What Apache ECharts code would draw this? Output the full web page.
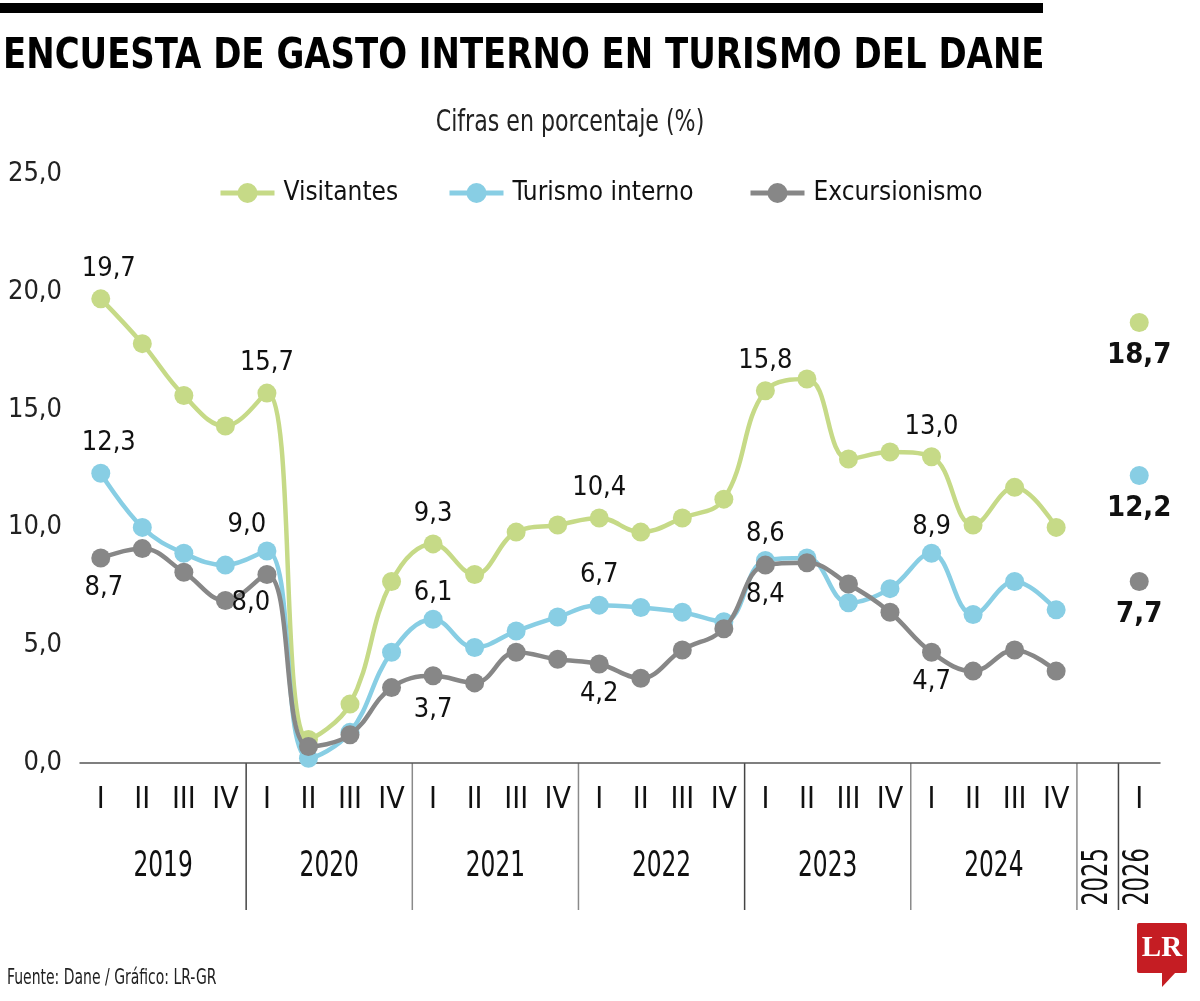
<!DOCTYPE html>
<html><head><meta charset="utf-8">
<script src="https://cdn.jsdelivr.net/npm/echarts@6/dist/echarts.min.js"></script>
<style>html,body{margin:0;padding:0;background:#fff}#c{width:1200px;height:1001px}</style>
</head><body><div id="c"></div>
<script>
// ---- data ----
const quarters = ['I','II','III','IV','I','II','III','IV','I','II','III','IV','I','II','III','IV','I','II','III','IV','I','II','III','IV','','I'];
const years = ['2019','2020','2021','2022','2023','2024','2025','2026'];
const yearSlots = [4,4,4,4,4,4,1,1];
const visitantes = [19.7,17.8,15.6,14.3,15.7,1.0,2.5,7.7,9.3,8.0,9.8,10.1,10.4,9.8,10.4,11.2,15.8,16.3,12.9,13.2,13.0,10.1,11.7,10.0,null,18.7];
const turismo = [12.3,10.0,8.9,8.4,9.0,0.2,1.3,4.7,6.1,4.9,5.6,6.2,6.7,6.6,6.4,6.0,8.6,8.7,6.8,7.4,8.9,6.3,7.7,6.5,null,12.2];
const excursionismo = [8.7,9.1,8.1,6.9,8.0,0.7,1.2,3.2,3.7,3.4,4.7,4.4,4.2,3.6,4.8,5.7,8.4,8.5,7.6,6.4,4.7,3.9,4.8,3.9,null,7.7];
const seriesNames = ['Visitantes','Turismo interno','Excursionismo'];
const yTicks = [0,5,10,15,20,25];

// ---- styling / label placement (kept separate from data) ----
const colors = ['#c6da87','#88cee4','#878787'];
const FONT = "'DejaVu Sans Condensed','DejaVu Sans',sans-serif";
const labelCfg = [
  {0:{pos:'top',off:[8,0]},4:{pos:'top'},8:{pos:'top'},12:{pos:'top'},16:{pos:'top'},20:{pos:'top'},25:{pos:'bottom',bold:true}},
  {0:{pos:'top',off:[8,0]},4:{pos:'top',off:[-20,4]},8:{pos:'top',off:[0,4]},12:{pos:'top'},16:{pos:'top',off:[0,4]},20:{pos:'top',off:[0,4]},25:{pos:'bottom',bold:true}},
  {0:{pos:'bottom',off:[3,0]},4:{pos:'bottom',off:[-16,-2]},8:{pos:'bottom',off:[0,4]},12:{pos:'bottom'},16:{pos:'bottom'},20:{pos:'bottom'},25:{pos:'bottom',bold:true}}
];
const legendLeft = [218, 447, 748];
const fmt = v => v.toFixed(1).replace('.', ',');

function buildData(vals, cfg) {
  return vals.map((v, i) => {
    const c = cfg[i];
    if (!c || v == null) return v;
    return {value: v, label: {
      show: true, position: c.pos, offset: c.off || [0,0], distance: c.bold ? 9 : 7,
      fontFamily: FONT, fontSize: c.bold ? 29 : 27, fontWeight: c.bold ? 'bold' : 'normal',
      color: '#111', formatter: p => fmt(p.value)
    }};
  });
}

const chart = echarts.init(document.getElementById('c'), null, {renderer: 'canvas'});
const allVals = [visitantes, turismo, excursionismo];

const option = {
  animation: false,
  backgroundColor: '#fff',
  legend: seriesNames.map((n, k) => ({
    data: [n], left: legendLeft[k], top: 180, padding: 0, itemGap: 0, itemWidth: 54, itemHeight: 25,
    textStyle: {fontFamily: FONT, fontSize: 26, color: '#111', padding: [0,0,0,4]},
    lineStyle: {width: 5},
    selectedMode: false
  })),
  grid: {left: 80, right: 40, top: 174, bottom: 238, containLabel: false},
  xAxis: {
    type: 'category', data: quarters, boundaryGap: true,
    axisLine: {show: true, lineStyle: {color: '#555', width: 1.5}},
    axisTick: {show: false},
    axisLabel: {interval: 0, margin: 22, fontFamily: FONT, fontSize: 30, color: '#111'},
    splitLine: {show: false}
  },
  yAxis: {
    type: 'value', min: yTicks[0], max: yTicks[yTicks.length-1], interval: yTicks[1]-yTicks[0],
    axisLine: {show: false}, axisTick: {show: false}, splitLine: {show: false},
    axisLabel: {margin: 18, fontFamily: FONT, fontSize: 27, color: '#222', formatter: v => fmt(v)}
  },
  series: seriesNames.map((n, k) => ({
    name: n, type: 'line', smooth: 0.4, connectNulls: false,
    symbol: 'circle', symbolSize: 19, showAllSymbol: true,
    lineStyle: {width: 4.5, color: colors[k]},
    itemStyle: {color: colors[k]},
    emphasis: {disabled: true},
    z: 2 + k,
    data: buildData(allVals[k], labelCfg[k])
  }))
};
chart.setOption(option);

// ---- texts, year labels and separators positioned through the category axis ----
const x0 = chart.convertToPixel({xAxisIndex: 0}, 0);
const x1 = chart.convertToPixel({xAxisIndex: 0}, 1);
const band = x1 - x0;
const axisY = chart.convertToPixel({yAxisIndex: 0}, 0);
const graphics = [];
graphics.push({type: 'rect', shape: {x: 0, y: 3, width: 1043, height: 10}, style: {fill: '#000'}});
graphics.push({type: 'text', x: 3, y: 35, scaleX: 0.878, style: {text: 'ENCUESTA DE GASTO INTERNO EN TURISMO DEL DANE', font: "bold 43px " + FONT, fill: '#000', align: 'left', verticalAlign: 'top'}});
graphics.push({type: 'text', x: 570, y: 108, scaleX: 0.82, style: {text: 'Cifras en porcentaje (%)', font: "30px " + FONT, fill: '#222', align: 'center', verticalAlign: 'top'}});
graphics.push({type: 'text', x: 7, y: 968, scaleX: 0.74, style: {text: 'Fuente: Dane / Gráfico: LR-GR', font: "21px " + FONT, fill: '#222', align: 'left', verticalAlign: 'top'}});
let start = 0;
const sepColors = ['#444','#8a8a8a','#8a8a8a','#444','#8a8a8a','#8a8a8a','#444'];
years.forEach((yr, j) => {
  const n = yearSlots[j];
  const leftX = x0 - band / 2 + start * band;
  const cx = leftX + n * band / 2;
  if (n >= 4) {
    graphics.push({type: 'text', x: cx, y: axisY + 104, scaleX: 0.74, style: {text: yr, font: "35px " + FONT, fill: '#111', align: 'center', verticalAlign: 'middle'}});
  } else {
    graphics.push({type: 'text', x: cx, y: axisY + 114, rotation: Math.PI / 2, scaleX: 0.72, style: {text: yr, font: "35px " + FONT, fill: '#111', align: 'center', verticalAlign: 'middle'}});
  }
  start += n;
  if (j < years.length - 1) {
    const sx = x0 - band / 2 + start * band;
    graphics.push({type: 'line', shape: {x1: sx, y1: axisY, x2: sx, y2: axisY + 147}, style: {stroke: sepColors[j], lineWidth: 1.5}});
  }
});
// LR logo
graphics.push({type: 'rect', shape: {x: 1137, y: 923, width: 50, height: 50, r: 2}, style: {fill: '#c51d23'}});
graphics.push({type: 'polygon', shape: {points: [[1162, 972], [1176, 972], [1162, 987]]}, style: {fill: '#c51d23'}});
graphics.push({type: 'text', x: 1162, y: 949, style: {text: 'LR', font: "bold 29px 'Liberation Serif','DejaVu Serif',serif", fill: '#fff', align: 'center', verticalAlign: 'middle'}});
chart.setOption({graphic: graphics});
</script>
</body></html>
